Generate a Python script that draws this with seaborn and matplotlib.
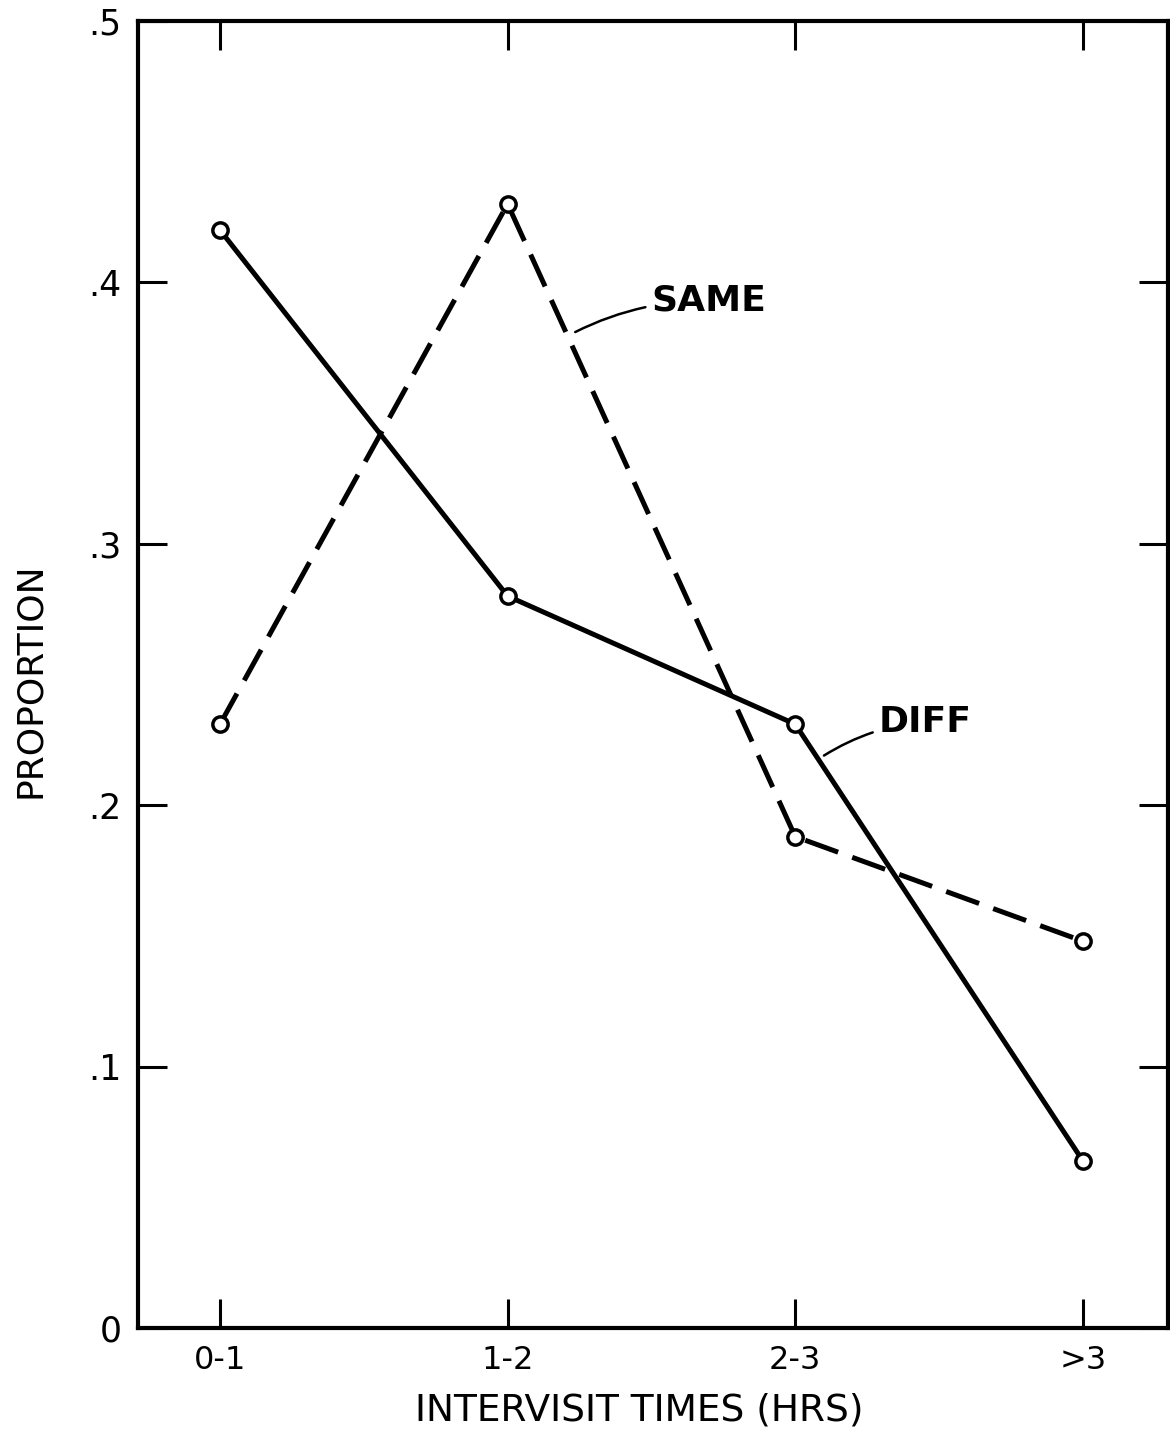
import matplotlib
matplotlib.use("Agg")
import matplotlib.pyplot as plt
import seaborn as sns
import pandas as pd

categories = ["0-1", "1-2", "2-3", ">3"]
diff_values = [0.420, 0.280, 0.231, 0.064]
same_values = [0.231, 0.430, 0.188, 0.148]
y_ticks = [0, 0.1, 0.2, 0.3, 0.4, 0.5]
y_tick_labels = ["0", ".1", ".2", ".3", ".4", ".5"]

sns.set_theme(style="white")
plt.rcParams['font.family'] = ['DejaVu Sans']
plt.rcParams['text.color'] = 'black'
plt.rcParams['axes.labelcolor'] = 'black'
plt.rcParams['xtick.color'] = 'black'
plt.rcParams['ytick.color'] = 'black'

df = pd.DataFrame({
    "x": list(range(len(categories))) * 2,
    "value": diff_values + same_values,
    "group": ["DIFF"] * len(categories) + ["SAME"] * len(categories),
})

fig = plt.figure(figsize=(11.7, 14.47), dpi=100)
ax = fig.add_axes([0.118, 0.0822, 0.880, 0.9033])

sns.lineplot(data=df, x="x", y="value", hue="group", style="group",
             palette={"DIFF": "black", "SAME": "black"},
             dashes={"DIFF": "", "SAME": (7, 3)},
             markers={"DIFF": "o", "SAME": "o"},
             markersize=11, markerfacecolor="white", markeredgecolor="black",
             markeredgewidth=2.5, linewidth=3.6, legend=False, ax=ax,
             sort=False)

ax.set_xlim(-0.285, 3.295)
ax.set_ylim(0, 0.5)
ax.set_xticks(range(len(categories)))
ax.set_xticklabels(categories, fontsize=23, color="black")
ax.set_yticks(y_ticks)
ax.set_yticklabels(y_tick_labels, fontsize=25, color="black")

ax.tick_params(axis="both", which="both", direction="in", length=21, width=2.2,
               color="black", top=True, right=True, bottom=True, left=True)
ax.tick_params(axis="x", pad=12)
ax.tick_params(axis="y", pad=12)

for s in ax.spines.values():
    s.set_visible(True)
    s.set_color("black")
    s.set_linewidth(3)

ax.set_xlabel("INTERVISIT TIMES (HRS)", fontsize=27, color="black")
ax.xaxis.set_label_coords(0.487, -0.063)
ax.xaxis.label.set_va("center")
ax.set_ylabel("PROPORTION", fontsize=26, color="black")
ax.yaxis.set_label_coords(-0.105, 0.496)
ax.yaxis.label.set_va("center")

ax.annotate("SAME", xy=(1.235, 0.381), xytext=(1.5, 0.393),
            fontsize=26, fontweight="bold", va="center", ha="left", color="black",
            arrowprops=dict(arrowstyle="-", color="black", lw=1.8,
                            shrinkA=2, shrinkB=0,
                            connectionstyle="arc3,rad=0.12"))
ax.annotate("DIFF", xy=(2.1, 0.219), xytext=(2.29, 0.232),
            fontsize=26, fontweight="bold", va="center", ha="left", color="black",
            arrowprops=dict(arrowstyle="-", color="black", lw=1.8,
                            shrinkA=2, shrinkB=0,
                            connectionstyle="arc3,rad=0.12"))

fig.savefig("out.png", dpi=100, facecolor="white")
